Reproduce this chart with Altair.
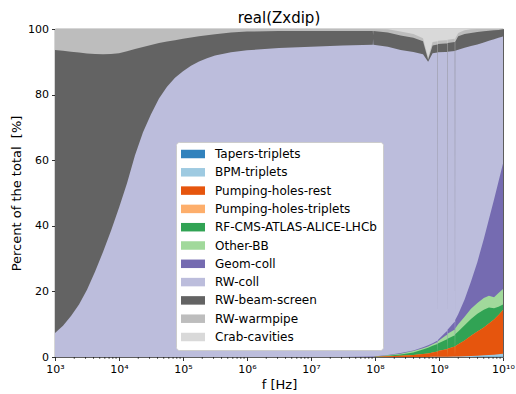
import altair as alt
import pandas as pd

series_names = [
    "Tapers-triplets", "BPM-triplets", "Pumping-holes-rest", "Pumping-holes-triplets",
    "RF-CMS-ATLAS-ALICE-LHCb", "Other-BB", "Geom-coll", "RW-coll",
    "RW-beam-screen", "RW-warmpipe", "Crab-cavities",
]
series_colors = [
    "#3182bd", "#9ecae1", "#e6550d", "#fdae6b", "#31a354", "#a1d99b",
    "#756bb1", "#bcbddc", "#636363", "#bdbdbd", "#d9d9d9",
]

# frequency points, as exponents of 10 (Hz)
log_f = [3.0, 3.125, 3.25, 3.375, 3.5, 3.625, 3.75, 3.875, 4.0, 4.125, 4.25, 4.375,
         4.5, 4.625, 4.75, 4.875, 5.0, 5.125, 5.25, 5.375, 5.5, 5.75, 6.0, 6.5, 7.0,
         7.5, 7.966, 7.97, 7.974,
         8.2, 8.4, 8.6, 8.75, 8.83, 8.9, 8.977, 8.98, 8.983, 9.1, 9.127, 9.13, 9.133,
         9.247, 9.25, 9.253, 9.3, 9.4, 9.5, 9.6, 9.7, 9.78, 9.86, 9.93, 10.0]

# upper edge (cumulative percent) of each stacked band
top_tapers = [0] * 46 + [0.02, 0.03, 0.04, 0.05, 0.06, 0.07, 0.08, 0.1]
top_bpm = [0] * 29 + [0.0, 0.01, 0.02, 0.03, 0.03, 0.04, 0.05, 0.01, 0.05, 0.08, 0.08,
                      0.01, 0.09, 0.12, 0.01, 0.13, 0.15, 0.2, 0.3, 0.4, 0.5, 0.6, 0.7,
                      0.85, 1.0]
top_ph_rest = [0] * 29 + [0.2, 0.4, 0.6, 0.9, 1.1, 1.4, 1.7, 0.2, 1.8, 2.3, 2.4, 0.24,
                          2.5, 3.2, 0.32, 3.3, 3.9, 5.0, 6.5, 7.8, 9.0, 10.2, 11.4, 12.8,
                          14.3]
top_ph_trip = [0] * 29 + [0.2, 0.4, 0.6, 0.9, 1.1, 1.4, 1.7, 0.2, 1.8, 2.3, 2.4, 0.24,
                          2.5, 3.2, 0.32, 3.3, 3.9, 5.0, 6.5, 7.8, 9.0, 10.2, 11.42,
                          12.83, 14.35]
top_rf = [0] * 29 + [0.4, 0.8, 1.4, 2.3, 2.8, 3.4, 4.0, 0.4, 4.1, 5.2, 5.4, 0.54, 5.6,
                     6.6, 0.66, 6.9, 7.8, 9.7, 11.6, 13.2, 14.4, 15.1, 14.9, 15.3, 16.0]
top_other_bb = [0] * 29 + [0.5, 1.0, 1.8, 2.7, 3.2, 3.9, 4.6, 0.5, 4.8, 6.5, 6.8, 0.68,
                           7.1, 8.4, 0.84, 8.7, 10.0, 12.3, 14.7, 16.5, 18.0, 18.7,
                           18.2, 19.5, 20.7]
top_geom = [0] * 26 + [0.15, 0.15, 0.15, 0.6, 1.2, 2.0, 3.0, 3.6, 4.2, 5.0, 0.5, 5.2,
                       7.5, 7.9, 0.79, 8.3, 10.8, 1.08, 11.3, 13.0, 17.5, 23.0, 29.0,
                       36.0, 42.0, 48.0, 53.5, 59.0]
top_rw_coll = [7.3, 9.5, 12.5, 16.0, 20.5, 26.0, 32.0, 38.5, 45.5, 53.0, 61.5, 68.5,
               74.0, 78.8, 82.4, 85.1, 87.1, 88.8, 90.1, 91.1, 91.9, 92.9, 93.5, 94.2,
               94.6, 95.0, 95.2, 97.0, 95.2,
               94.6, 93.6, 93.0, 92.3, 90.0, 92.6, 92.8, 9.3, 92.9, 93.0, 93.0, 9.3,
               93.1, 93.3, 9.33, 93.4, 93.7, 94.3, 94.8, 95.3, 95.9, 96.4, 96.9, 97.3,
               97.7]
top_beam_screen = [93.6, 93.4, 93.1, 92.8, 92.5, 92.35, 92.3, 92.35, 92.6, 93.2, 93.9,
                   94.5, 95.1, 95.7, 96.2, 96.6, 97.0, 97.4, 97.8, 98.1, 98.4, 98.9,
                   99.2, 99.4, 99.4, 99.4, 99.4, 98.2, 99.4,
                   98.9, 98.0, 97.3, 96.3, 90.6, 95.0, 95.3, 9.5, 95.4, 95.6, 95.6, 9.56,
                   95.7, 96.0, 9.6, 96.1, 97.8, 98.5, 98.8, 99.1, 99.3, 99.5, 99.6, 99.7,
                   99.9]
top_warmpipe = [100] * 29 + [99.9, 99.2, 98.5, 97.2, 91.3, 96.0, 96.3, 9.6, 96.4, 96.6,
                             96.6, 9.66, 96.7, 97.0, 9.7, 97.1, 98.8, 99.6, 99.9, 100,
                             100, 100, 100, 100, 100]
top_crab = [100] * 54

tops = [top_tapers, top_bpm, top_ph_rest, top_ph_trip, top_rf, top_other_bb, top_geom,
        top_rw_coll, top_beam_screen, top_warmpipe, top_crab]

x_major = [1e3, 1e4, 1e5, 1e6, 1e7, 1e8, 1e9, 1e10]
x_minor = [m * d for d in x_major[:-1] for m in range(2, 10)]
y_ticks = [0, 20, 40, 60, 80, 100]

W, H = 448, 328
FONT = "DejaVu Sans"

sup = "['\u2070','\u00b9','\u00b2','\u00b3','\u2074','\u2075','\u2076','\u2077','\u2078','\u2079','\u00b9\u2070']"

x_scale = alt.Scale(type="log", domain=[1e3, 1e10], nice=False)
y_scale = alt.Scale(domain=[0, 100], nice=False)
color_scale = alt.Scale(domain=series_names, range=series_colors)

legend = alt.Legend(
    title=None,
    orient="none",
    legendX=121,
    legendY=113,
    padding=6,
    fillColor="white",
    strokeColor="#cccccc",
    cornerRadius=3,
    symbolType="M-1.4,-0.85H3.4V0.85H-1.4Z",
    symbolSize=100,
    symbolStrokeWidth=0,
    symbolOpacity=1,
    labelFontSize=12,
    labelFont=FONT,
    labelColor="black",
    labelOffset=21,
    labelLimit=0,
    rowPadding=6.3,
)

x_axis_major = alt.Axis(
    values=x_major,
    labelExpr=f"'10' + {sup}[round(log(datum.value)/LN10)]",
    tickSize=3.5, tickWidth=0.8, tickColor="black",
    labelOverlap=False, labelFlush=False, labelFontSize=11, labelPadding=3,
    labelColor="black", domain=False, grid=False,
    title="f [Hz]", titleFontSize=13, titleFontWeight="normal", titleColor="black",
    titlePadding=4,
)
y_axis = alt.Axis(
    values=y_ticks, tickSize=3.5, tickWidth=0.8, tickColor="black",
    labelFontSize=11, labelPadding=3, labelColor="black", domain=False, grid=False,
    title="Percent of the total\u00a0 [%]", titleFontSize=13,
    titleFontWeight="normal", titleColor="black", titlePadding=4,
)

layers = []
for i in reversed(range(len(series_names))):
    d = pd.DataFrame({
        "f": [10 ** e for e in log_f],
        "top": tops[i],
        "series": series_names[i],
    })
    layers.append(
        alt.Chart(d).mark_area().encode(
            x=alt.X("f:Q", scale=x_scale, axis=x_axis_major),
            y=alt.Y("top:Q", scale=y_scale, axis=y_axis, stack=None),
            color=alt.Color("series:N", scale=color_scale, legend=legend),
        )
    )

# minor ticks of the log axis
minor_df = pd.DataFrame({"f": x_minor})
minor = alt.Chart(minor_df).mark_rule(color="black", strokeWidth=0.6).encode(
    x=alt.X("f:Q", scale=x_scale, axis=x_axis_major),
    y=alt.value(H),
    y2=alt.value(H + 2),
)
layers.append(minor)

chart = (
    alt.layer(*layers)
    .properties(
        width=W,
        height=H,
        autosize=alt.AutoSizeParams(type="none"),
        padding={"left": 55, "top": 29, "right": 13, "bottom": 37},
        title=alt.TitleParams(
            "real(Zxdip)", fontSize=15, fontWeight="normal", font=FONT,
            color="black", anchor="middle", offset=1, dy=4,
        ),
    )
    .configure(font=FONT, background="white")
    .configure_view(stroke="black", strokeWidth=0.8)
)

chart.save("out.html", embed_options={"renderer": "svg", "actions": False})
